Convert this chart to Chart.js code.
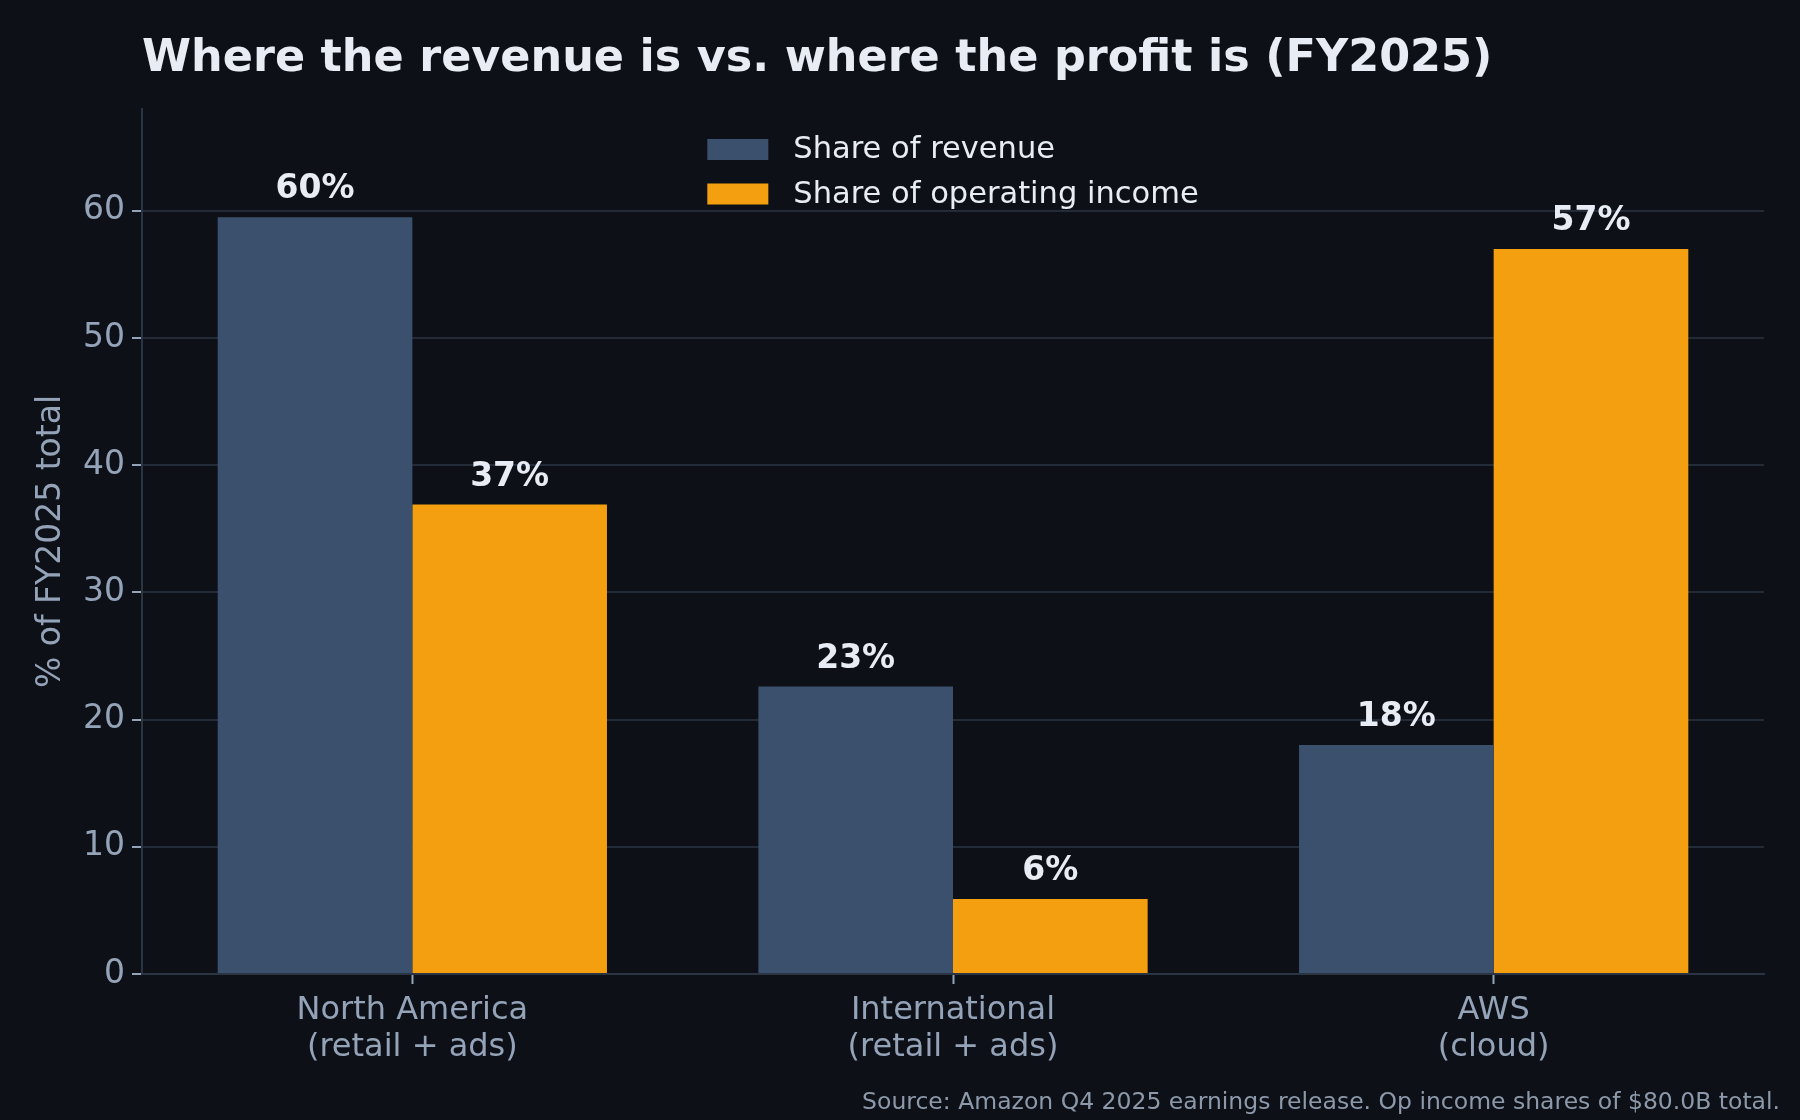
<!DOCTYPE html>
<html>
<head>
<meta charset="utf-8">
<title>Where the revenue is vs. where the profit is (FY2025)</title>
<script src="https://cdn.jsdelivr.net/npm/chart.js@4.4.1/dist/chart.umd.min.js"></script>
<style>
  html, body { margin: 0; padding: 0; background: #0d1117; }
  #wrap { width: 1800px; height: 1120px; }
</style>
</head>
<body>
<div id="wrap"><canvas id="shareChart" width="1800" height="1120"></canvas></div>
<script>
// data
const categories = [['North America', '(retail + ads)'], ['International', '(retail + ads)'], ['AWS', '(cloud)']];
const revenueShare = [59.5, 22.6, 18.0];
const opIncomeShare = [36.9, 5.9, 57.0];
const yTicks = [0, 10, 20, 30, 40, 50, 60];
const seriesNames = ['Share of revenue', 'Share of operating income'];
const chartTitle = 'Where the revenue is vs. where the profit is (FY2025)';
const sourceNote = 'Source: Amazon Q4 2025 earnings release. Op income shares of $80.0B total.';

const BG = '#0d1117';
const TEXT = '#e8edf5';
const MUTED = '#94a3b8';
const FONT = '"DejaVu Sans", "Liberation Sans", sans-serif';

Chart.defaults.font.family = FONT;

// background, title, legend, source line and value labels
const decorations = {
    id: 'decorations',
    beforeDraw(chart) {
        const ctx = chart.ctx;
        ctx.save();
        ctx.fillStyle = BG;
        ctx.fillRect(0, 0, chart.width, chart.height);
        ctx.restore();
    },
    afterDatasetsDraw(chart) {
        const ctx = chart.ctx;
        ctx.save();
        ctx.font = 'bold 33px ' + FONT;
        ctx.fillStyle = TEXT;
        ctx.textAlign = 'center';
        ctx.textBaseline = 'alphabetic';
        chart.data.datasets.forEach((ds, i) => {
            chart.getDatasetMeta(i).data.forEach((bar, j) => {
                ctx.fillText(Math.round(ds.data[j]) + '%', bar.x, bar.y - 19);
            });
        });
        ctx.restore();
    },
    afterDraw(chart) {
        const ctx = chart.ctx;
        const area = chart.chartArea;
        ctx.save();

        // title
        ctx.font = 'bold 44.5px ' + FONT;
        ctx.fillStyle = TEXT;
        ctx.textAlign = 'left';
        ctx.textBaseline = 'alphabetic';
        ctx.fillText(chartTitle, area.left, 71);

        // legend, upper center of the plot
        ctx.font = '30.5px ' + FONT;
        const widest = Math.max(...chart.data.datasets.map(ds => ctx.measureText(ds.label).width));
        const boxW = 61, boxH = 21, gap = 25, rowH = 44.5;
        const left = (area.left + area.right) / 2 - (boxW + gap + widest) / 2;
        ctx.textBaseline = 'middle';
        chart.data.datasets.forEach((ds, i) => {
            const cy = 149.5 + i * rowH;
            ctx.fillStyle = ds.backgroundColor;
            ctx.fillRect(left, cy - boxH / 2, boxW, boxH);
            ctx.fillStyle = TEXT;
            ctx.fillText(ds.label, left + boxW + gap, cy + 1);
        });

        // source line
        ctx.font = '23.5px ' + FONT;
        ctx.fillStyle = '#8d99aa';
        ctx.textAlign = 'right';
        ctx.textBaseline = 'alphabetic';
        ctx.fillText(sourceNote, 1780, 1109);
        ctx.restore();
    }
};

const ctx = document.getElementById('shareChart').getContext('2d');
const shareChart = new Chart(ctx, {
    type: 'bar',
    data: {
        labels: categories,
        datasets: [{
            label: seriesNames[0],
            data: revenueShare,
            backgroundColor: '#3a506d',
            borderWidth: 0,
            categoryPercentage: 0.72,
            barPercentage: 1.0
        }, {
            label: seriesNames[1],
            data: opIncomeShare,
            backgroundColor: '#f39f0f',
            borderWidth: 0,
            categoryPercentage: 0.72,
            barPercentage: 1.0
        }]
    },
    options: {
        responsive: false,
        animation: false,
        devicePixelRatio: 1,
        layout: { padding: { top: 109, right: 36, left: 0, bottom: 0 } },
        plugins: {
            legend: { display: false },
            title: { display: false },
            tooltip: { enabled: false }
        },
        scales: {
            x: {
                offset: true,
                afterFit: scale => { scale.height = 146; },
                ticks: {
                    color: MUTED,
                    font: { size: 32, lineHeight: 1.15 },
                    padding: 8,
                    maxRotation: 0,
                    autoSkip: false
                },
                grid: {
                    display: true,
                    drawOnChartArea: false,
                    drawTicks: true,
                    tickLength: 10,
                    tickWidth: 2,
                    tickColor: MUTED,
                    offset: false
                },
                border: { color: '#2b3442', width: 2 }
            },
            y: {
                min: 0,
                max: 68,
                afterFit: scale => { scale.width = 142; },
                afterBuildTicks: scale => { scale.ticks = yTicks.map(v => ({ value: v })); },
                ticks: {
                    color: MUTED,
                    font: { size: 33 },
                    padding: 7
                },
                grid: {
                    color: '#232b37',
                    lineWidth: 2,
                    tickColor: MUTED,
                    tickLength: 10,
                    tickWidth: 2
                },
                border: { color: '#2b3442', width: 2 },
                title: {
                    display: true,
                    text: '% of FY2025 total',
                    color: MUTED,
                    font: { size: 33 },
                    padding: { top: 32, bottom: 0 }
                }
            }
        }
    },
    plugins: [decorations]
});
</script>
</body>
</html>
